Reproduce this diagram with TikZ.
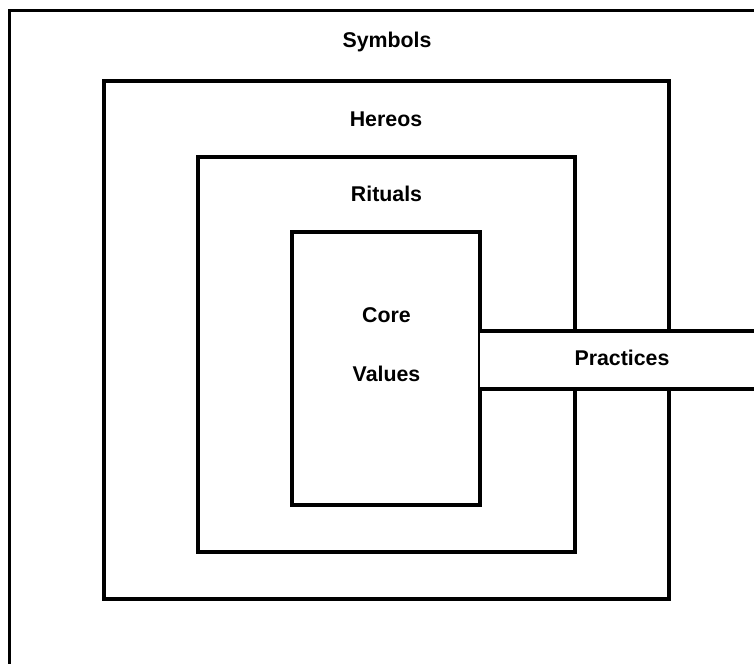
\documentclass[tikz,border=0pt]{standalone}
\usepackage{fontspec}
\setmainfont{Liberation Sans}
\begin{document}
\begin{tikzpicture}[x=0.75pt,y=-0.75pt,
  layer/.style={draw=black,line width=3pt,fill=none,rectangle,inner sep=0pt,outer sep=0pt},
  lbl/.style={font=\bfseries\fontsize{16}{19}\selectfont,anchor=base,inner sep=0pt}]
\useasboundingbox (0,0) rectangle (754,664);
% outer frame: only the top and left edges lie inside the page
\coordinate (tl) at (9.5,10.5);
\coordinate (tr) at (760,10.5);
\coordinate (bl) at (9.5,670);
\draw[line width=2.25pt] (tr) -- (tl) -- (bl);
% nested layers (sizes in px, 1px = 0.75pt)
\node[layer,minimum width=423.75pt,minimum height=388.5pt] (hero) at (386.5,340) {};
\node[layer,minimum width=282.75pt,minimum height=295.875pt] (ritual) at (386.5,354.25) {};
\node[layer,minimum width=141pt,minimum height=204.75pt] (core) at (386,368.5) {};
% practices band cutting through the outer layers
\coordinate (pt) at (core.east |- 0,331);
\coordinate (pb) at (core.east |- 0,389);
\coordinate (pte) at (760,331);
\coordinate (pbe) at (760,389);
\fill[white] (pt) rectangle (pbe);
\draw[line width=3pt] (pt) -- (pte);
\draw[line width=3pt] (pb) -- (pbe);
% labels
\node[lbl] (symbols) at (387,47) {Symbols};
\node[lbl] (hereos) at (386,126) {Hereos};
\node[lbl] (rituals) at (386.5,201) {Rituals};
\node[lbl] (corelbl) at (386.5,322) {Core};
\node[lbl] (values) at (386.5,381) {Values};
\node[lbl] (practices) at (622,365) {Practices};
\end{tikzpicture}
\end{document}
